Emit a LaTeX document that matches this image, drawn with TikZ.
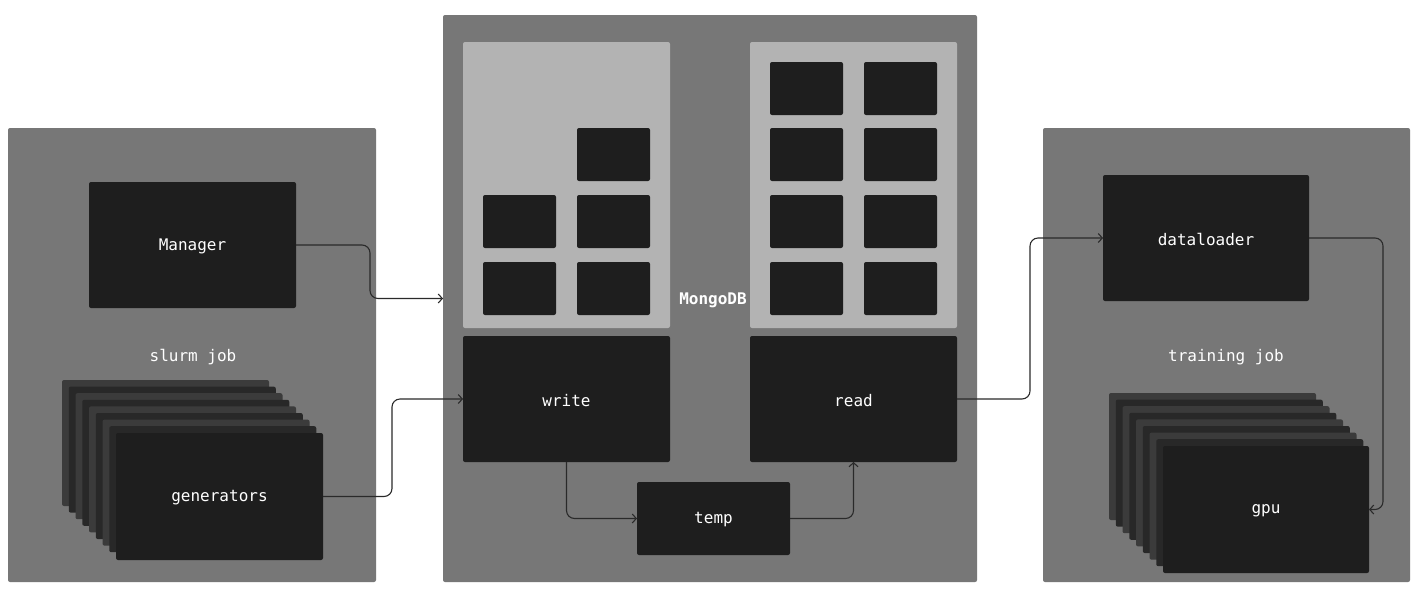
\documentclass[tikz,border=0pt]{standalone}
\usepackage{fontspec}
\setmonofont{DejaVu Sans Mono}
\usetikzlibrary{arrows.meta}
\definecolor{panelc}{HTML}{777777}
\definecolor{lightc}{HTML}{B3B3B3}
\definecolor{boxc}{HTML}{1E1E1E}
\definecolor{cardA}{HTML}{3B3B3B}
\definecolor{cardB}{HTML}{282828}
\definecolor{linec}{HTML}{2A2A2A}
\begin{document}
\begin{tikzpicture}[x=1pt,y=-1pt,
  base/.style={draw=none, rounded corners=2pt, inner sep=0pt, outer sep=0pt, anchor=north west,
    text=white, font=\ttfamily\fontsize{16}{19}\selectfont},
  panel/.style={base, fill=panelc},
  lightpanel/.style={base, fill=lightc},
  darkbox/.style={base, fill=boxc},
  cardlight/.style={base, fill=cardA},
  carddark/.style={base, fill=cardB},
  lbl/.style={text=white, inner sep=0pt, font=\ttfamily\fontsize{16}{19}\selectfont},
  conn/.style={draw=linec, line width=1.1pt, rounded corners=8pt},
  arr/.style={conn, -{Straight Barb[length=4pt,width=9pt,line width=1.1pt]}}
]
\useasboundingbox (0,0) rectangle (1423,595);
\fill[white] (0,0) rectangle (1423,595);

% ---- panels ----
\node[panel, minimum width=368pt, minimum height=454pt] (slurm) at (8,128) {};
\node[panel, minimum width=534pt, minimum height=567pt] (mongo) at (443,15) {};
\node[panel, minimum width=367pt, minimum height=454pt] (training) at (1043,128) {};

% ---- slurm job ----
\node[darkbox, minimum width=207pt, minimum height=126pt] (manager) at (89,182) {};
\node[lbl] (managerlbl) at ([yshift=-1.5]manager.center) {Manager};
\node[lbl] (slurmlbl) at (193,357) {slurm job};

\foreach \i in {0,...,7}{
  \pgfmathtruncatemacro{\m}{mod(\i,2)}
  \ifnum\m=0
    \node[cardlight, minimum width=207pt, minimum height=126pt] (gen\i) at ({62+6.75*\i},{380+6.6*\i}) {};
  \else
    \node[carddark, minimum width=207pt, minimum height=126pt] (gen\i) at ({62+6.75*\i},{380+6.6*\i}) {};
  \fi
}
\node[darkbox, minimum width=207pt, minimum height=127pt] (gen) at (116,433) {};
\node[lbl] (genlbl) at ([yshift=-1.5]gen.center) {generators};

% ---- MongoDB ----
\node[lightpanel, minimum width=207pt, minimum height=286pt] (wstore) at (463,42) {};
\node[lightpanel, minimum width=207pt, minimum height=286pt] (rstore) at (750,42) {};

\node[darkbox, minimum width=73pt, minimum height=53pt] (w1) at (577,128) {};
\node[darkbox, minimum width=73pt, minimum height=53pt] (w2) at (483,195) {};
\node[darkbox, minimum width=73pt, minimum height=53pt] (w3) at (577,195) {};
\node[darkbox, minimum width=73pt, minimum height=53pt] (w4) at (483,262) {};
\node[darkbox, minimum width=73pt, minimum height=53pt] (w5) at (577,262) {};

\foreach \r/\yy in {1/62,2/128,3/195,4/262}{
  \node[darkbox, minimum width=73pt, minimum height=53pt] (ra\r) at (770,\yy) {};
  \node[darkbox, minimum width=73pt, minimum height=53pt] (rb\r) at (864,\yy) {};
}

\node[lbl, font=\ttfamily\bfseries\fontsize{16}{19}\selectfont] (mongolbl) at (713,300) {MongoDB};

\node[darkbox, minimum width=207pt, minimum height=126pt] (write) at (463,336) {};
\node[lbl] (writelbl) at ([yshift=-1.5]write.center) {write};
\node[darkbox, minimum width=207pt, minimum height=126pt] (read) at (750,336) {};
\node[lbl] (readlbl) at ([yshift=-1.5]read.center) {read};
\node[darkbox, minimum width=153pt, minimum height=73pt] (temp) at (637,482) {};
\node[lbl] (templbl) at ([yshift=-1.5]temp.center) {temp};

% ---- training job ----
\node[darkbox, minimum width=206pt, minimum height=126pt] (dataloader) at (1103,175) {};
\node[lbl] (dllbl) at ([yshift=-1.5]dataloader.center) {dataloader};
\node[lbl] (traininglbl) at (1226,357) {training job};

\foreach \i in {0,...,7}{
  \pgfmathtruncatemacro{\m}{mod(\i,2)}
  \ifnum\m=0
    \node[cardlight, minimum width=207pt, minimum height=127pt] (gpu\i) at ({1109+6.75*\i},{393+6.6*\i}) {};
  \else
    \node[carddark, minimum width=207pt, minimum height=127pt] (gpu\i) at ({1109+6.75*\i},{393+6.6*\i}) {};
  \fi
}
\node[darkbox, minimum width=206pt, minimum height=127pt] (gpu) at (1163,446) {};
\node[lbl] (gpulbl) at ([yshift=-1.5]gpu.center) {gpu};

% ---- connectors ----
\draw[arr] (manager.east) -- ++(74,0) |- (mongo.west);
\draw[arr] (gen.east) -- ++(69,0) |- (write.west);
\draw[arr] (write.south) |- (temp.west);
\draw[arr] (temp.east) -| (read.south);
\draw[arr] (read.east) -- ++(73,0) |- (dataloader.west);
\draw[arr] (dataloader.east) -- ++(74,0) |- (gpu.east);
\end{tikzpicture}
\end{document}
